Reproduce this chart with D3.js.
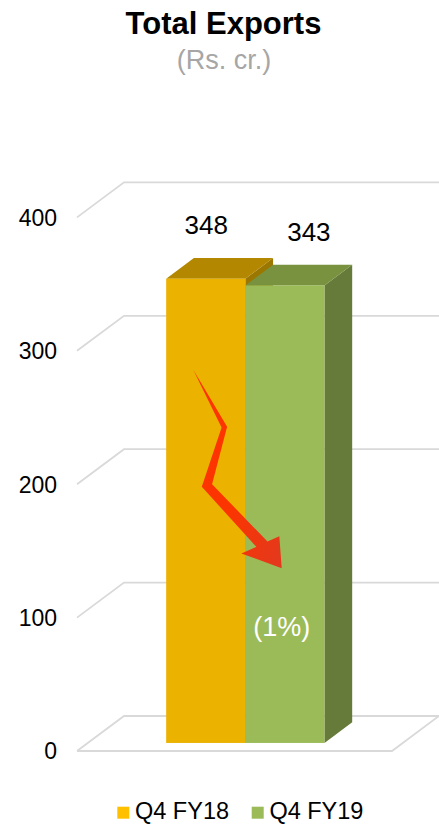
<!DOCTYPE html>
<html>
<head>
<meta charset="utf-8">
<script src="https://cdn.jsdelivr.net/npm/d3@7"></script>
<style>
  body { margin: 0; background: #fff; }
  svg { display: block; font-family: 'Liberation Sans', Arial, sans-serif; }
</style>
</head>
<body>
<div id="chart"></div>
<script>
// data
var groups = ['Total Exports'];
var series = ['Q4 FY18', 'Q4 FY19'];
var values = [348, 343];
var tickValues = [0, 100, 200, 300, 400];
var changeLabel = '(1%)';

var width = 439,
    height = 824;

var frontColors = ['#ebb300', '#9bbb59'],
    topColors = ['#b38700', '#78923f'],
    sideColors = ['#9c7700', '#667a3a'],
    gridColor = '#d9d9d9';

// depth of the 3d box (z from 0 = front to 1 = back)
var depthX = 47,
    depthY = 35,
    barZ0 = 0.23,
    barZ1 = 0.82;

var svg = d3.select('#chart')
  .append('svg')
  .attr('width', width)
  .attr('height', height);

// scales, in the front plane (z = 0)
var y = d3.scaleLinear()
  .domain([0, 400])
  .range([751, 217.4]);

var x0 = d3.scaleBand()
  .domain(groups)
  .range([77, 392])
  .paddingOuter(0.495);

var x1 = d3.scaleBand()
  .domain(series)
  .range([0, x0.bandwidth()]);

function proj(px, v, z) {
  return [px + depthX * z, y(v) - depthY * z];
}

function poly(pts) {
  return pts.map(function(p) { return p.join(','); }).join(' ');
}

// title
svg.append('text')
  .attr('x', 223.5)
  .attr('y', 33.5)
  .attr('text-anchor', 'middle')
  .style('font-size', '31px')
  .style('font-weight', 'bold')
  .attr('fill', '#000')
  .text('Total Exports');

svg.append('text')
  .attr('x', 224)
  .attr('y', 69)
  .attr('text-anchor', 'middle')
  .style('font-size', '27px')
  .attr('fill', '#a6a6a6')
  .text('(Rs. cr.)');

// gridlines (walls and floor)
var left = x0.range()[0],
    right = x0.range()[1];

var grid = svg.append('g');
tickValues.forEach(function(t) {
  var a = proj(left, t, 0),
      b = proj(left, t, 1);
  grid.append('polyline')
    .attr('points', poly([a, b, [width + 2, b[1]]]))
    .attr('fill', 'none')
    .attr('stroke', gridColor)
    .attr('stroke-width', 1.8);
});

// floor front edge
grid.append('polyline')
  .attr('points', poly([proj(left, 0, 0), proj(right, 0, 0), proj(right, 0, 1)]))
  .attr('fill', 'none')
  .attr('stroke', gridColor)
  .attr('stroke-width', 1.8);

// y axis labels
svg.append('g')
  .selectAll('text')
  .data(tickValues)
  .join('text')
  .attr('x', 57)
  .attr('y', function(d) { return y(d) + 8.3; })
  .attr('text-anchor', 'end')
  .style('font-size', '23px')
  .attr('fill', '#000')
  .text(function(d) { return d; });

// bars
var bars = series.map(function(s, i) {
  return { name: s, value: values[i], i: i };
});

var barG = svg.append('g');
bars.forEach(function(d) {
  var xa = x0(groups[0]) + x1(d.name),
      xb = xa + x1.bandwidth();
  // right side
  barG.append('polygon')
    .attr('points', poly([proj(xb, 0, barZ0), proj(xb, d.value, barZ0), proj(xb, d.value, barZ1), proj(xb, 0, barZ1)]))
    .attr('fill', sideColors[d.i]);
  // top
  barG.append('polygon')
    .attr('points', poly([proj(xa, d.value, barZ0), proj(xb, d.value, barZ0), proj(xb, d.value, barZ1), proj(xa, d.value, barZ1)]))
    .attr('fill', topColors[d.i]);
  // front
  var p0 = proj(xa, d.value, barZ0),
      p1 = proj(xb, 0, barZ0);
  barG.append('rect')
    .attr('x', p0[0])
    .attr('y', p0[1])
    .attr('width', p1[0] - p0[0])
    .attr('height', p1[1] - p0[1])
    .attr('fill', frontColors[d.i]);
});

// value labels
var labelShift = [0.5, 24];
svg.append('g')
  .selectAll('text')
  .data(bars)
  .join('text')
  .attr('x', function(d) {
    var p = proj(x0(groups[0]) + x1(d.name) + x1.bandwidth() / 2, d.value, barZ0);
    return p[0] + labelShift[d.i];
  })
  .attr('y', function(d) { return proj(0, d.value, barZ0)[1] - 44.5; })
  .attr('text-anchor', 'middle')
  .style('font-size', '26px')
  .attr('fill', '#000')
  .text(function(d) { return d.value; });

// zigzag arrow, placed in bar / value space
var bx = x0(groups[0]),
    bw = x1.bandwidth();
var arrow = [
  [0.34, 280], [0.77, 237], [0.58, 194], [1.28, 151], [1.43, 155],
  [1.46, 131], [0.95, 142], [1.14, 147], [0.45, 192], [0.70, 236.5]
];
var grad = svg.append('defs').append('linearGradient')
  .attr('id', 'arrowGrad')
  .attr('x1', '0').attr('y1', '0')
  .attr('x2', '1').attr('y2', '1');
grad.append('stop').attr('offset', '0').attr('stop-color', '#ff3300');
grad.append('stop').attr('offset', '0.55').attr('stop-color', '#fb3500');
grad.append('stop').attr('offset', '1').attr('stop-color', '#e2391f');

svg.append('polygon')
  .attr('points', poly(arrow.map(function(a) {
    return proj(bx + a[0] * bw, a[1], barZ0);
  })))
  .attr('fill', 'url(#arrowGrad)');

// change label
svg.append('text')
  .attr('x', proj(bx + 1.46 * bw, 0, barZ0)[0])
  .attr('y', proj(0, 80, barZ0)[1])
  .attr('text-anchor', 'middle')
  .style('font-size', '27px')
  .attr('fill', '#fff')
  .text(changeLabel);

// legend
var legend = svg.append('g')
  .selectAll('g')
  .data(series)
  .join('g')
  .attr('transform', function(d, i) { return 'translate(' + (117.3 + i * 134.4) + ',806.7)'; });

legend.append('rect')
  .attr('width', 12)
  .attr('height', 12)
  .attr('fill', function(d, i) { return i === 0 ? '#ffc000' : frontColors[i]; });

legend.append('text')
  .attr('x', 17.7)
  .attr('y', 12.5)
  .style('font-size', '23.5px')
  .attr('fill', '#000')
  .text(function(d) { return d; });
</script>
</body>
</html>
